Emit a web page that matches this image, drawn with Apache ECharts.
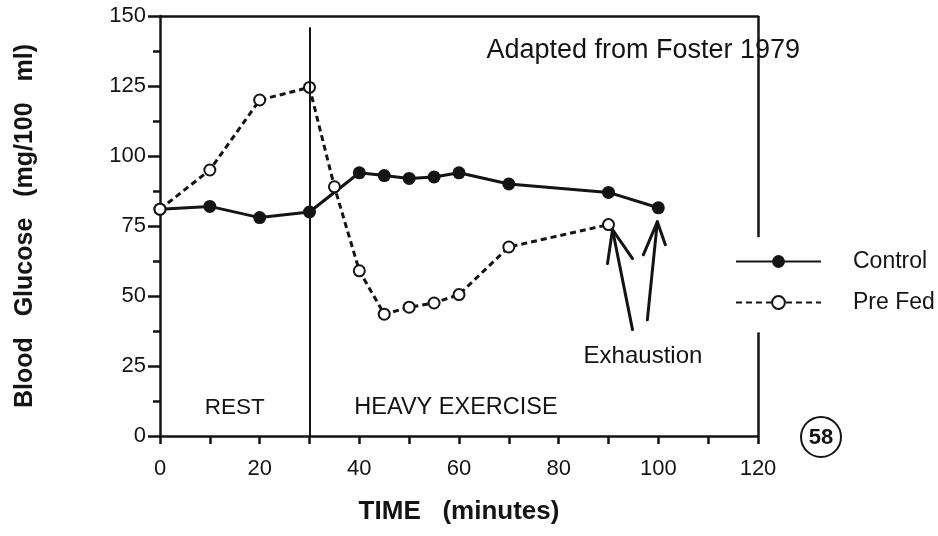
<!DOCTYPE html>
<html>
<head>
<meta charset="utf-8">
<title>Blood Glucose during heavy exercise</title>
<script src="https://cdn.jsdelivr.net/npm/echarts@6/dist/echarts.min.js"></script>
<style>
  html, body { margin: 0; background: #fff; }
  #chart { width: 938px; height: 536px; }
</style>
</head>
<body>
<div id="chart"></div>
<script>
// values (minutes, mg/100 ml)
const controlTime = [0, 10, 20, 30, 40, 45, 50, 55, 60, 70, 90, 100];
const controlValues = [81, 82, 78, 80, 94, 93, 92, 92.5, 94, 90, 87, 81.5];
const preFedTime = [0, 10, 20, 30, 35, 40, 45, 50, 55, 60, 70, 90];
const preFedValues = [81, 95, 120, 124.5, 89, 59, 43.5, 46, 47.5, 50.5, 67.5, 75.5];

const xTicks = { min: 0, max: 120, step: 10 };
const yTicks = { min: 0, max: 150, step: 25 };
const restEnd = 30;

const ink = '#141414';
const font = '"Liberation Sans", Arial, sans-serif';

const chart = echarts.init(document.getElementById('chart'), null, { renderer: 'canvas' });

const toPairs = (xs, ys) => xs.map((x, i) => [x, ys[i]]);

const option = {
  animation: false,
  backgroundColor: '#fff',
  grid: { left: 160, right: 180, top: 16, bottom: 100 },
  legend: {
    data: ['Control', 'Pre Fed'],
    orient: 'vertical',
    left: 735,
    top: 250,
    itemWidth: 85,
    itemHeight: 16,
    itemGap: 18,
    padding: 0,
    textStyle: { fontFamily: font, fontSize: 23, color: ink, padding: [0, 0, 0, 27] }
  },
  xAxis: [
    {
      type: 'value',
      min: xTicks.min,
      max: xTicks.max,
      interval: xTicks.step,
      name: 'TIME   (minutes)',
      nameLocation: 'middle',
      nameGap: 63,
      nameTextStyle: { fontFamily: font, fontSize: 26, fontWeight: 'bold', color: ink },
      axisLine: { onZero: false, lineStyle: { color: ink, width: 2.5 } },
      axisTick: { length: 8, lineStyle: { color: ink, width: 2.5 } },
      axisLabel: {
        margin: 22,
        fontFamily: font,
        fontSize: 22,
        color: ink,
        formatter: v => (v % 20 === 0 ? String(v) : '')
      },
      splitLine: { show: false }
    },
    {
      // top frame line
      type: 'value',
      position: 'top',
      min: xTicks.min,
      max: xTicks.max,
      axisLine: { show: true, onZero: false, lineStyle: { color: ink, width: 2.5 } },
      axisTick: { show: false },
      axisLabel: { show: false },
      splitLine: { show: false }
    }
  ],
  yAxis: {
    type: 'value',
    min: yTicks.min,
    max: yTicks.max,
    interval: yTicks.step,
    name: 'Blood   Glucose   (mg/100   ml)',
    nameLocation: 'middle',
    nameGap: 122,
    nameTextStyle: { fontFamily: font, fontSize: 25, fontWeight: 'bold', color: ink },
    axisLine: { show: true, lineStyle: { color: ink, width: 2.5 } },
    axisTick: { length: 12, lineStyle: { color: ink, width: 2.5 } },
    minorTick: { show: true, splitNumber: 2, length: 7, lineStyle: { color: ink, width: 2.5 } },
    axisLabel: { margin: 14, fontFamily: font, fontSize: 22, color: ink },
    splitLine: { show: false }
  },
  series: [
    {
      name: 'Control',
      type: 'line',
      data: toPairs(controlTime, controlValues),
      symbol: 'circle',
      symbolSize: 13,
      lineStyle: { color: ink, width: 3 },
      itemStyle: { color: ink },
      z: 3,
      markLine: {
        silent: true,
        symbol: 'none',
        label: { show: false },
        lineStyle: { type: 'solid', color: ink, width: 2 },
        data: [[{ coord: [restEnd, 0] }, { coord: [restEnd, 146] }]]
      }
    },
    {
      name: 'Pre Fed',
      type: 'line',
      data: toPairs(preFedTime, preFedValues),
      symbol: 'emptyCircle',
      symbolSize: 11,
      lineStyle: { color: ink, width: 3, type: [6, 4] },
      itemStyle: { color: ink, borderColor: ink, borderWidth: 2.5 },
      z: 4,
      markLine: {
        silent: true,
        symbol: 'none',
        label: { show: false },
        lineStyle: { type: 'solid', color: ink, width: 2.5 },
        data: [
          [{ coord: [xTicks.max, yTicks.max] }, { coord: [xTicks.max, 71] }],
          [{ coord: [xTicks.max, 37] }, { coord: [xTicks.max, 0] }]
        ]
      }
    }
  ]
};

chart.setOption(option);

// annotations anchored to the data coordinates
const px = p => chart.convertToPixel({ gridIndex: 0 }, p);

function label(text, at, size, align) {
  const [x, y] = px(at);
  return {
    type: 'text',
    style: { text, x, y, font: size + 'px ' + font, fill: ink, textAlign: align, textVerticalAlign: 'middle' }
  };
}

function arrow(target, tipOff, tailOff, arm1, arm2) {
  const [x, y] = px(target);
  const tip = [x + tipOff[0], y + tipOff[1]];
  const tail = [x + tailOff[0], y + tailOff[1]];
  const st = { stroke: ink, lineWidth: 3, fill: null, lineCap: 'round', lineJoin: 'round' };
  return [
    { type: 'polyline', shape: { points: [tail, tip] }, style: st },
    {
      type: 'polyline',
      shape: { points: [[tip[0] + arm1[0], tip[1] + arm1[1]], tip, [tip[0] + arm2[0], tip[1] + arm2[1]]] },
      style: st
    }
  ];
}

const lastPre = preFedTime.length - 1;
const lastCtl = controlTime.length - 1;

chart.setOption({
  graphic: [
    label('Adapted from Foster 1979', [65.5, 137.5], 27, 'left'),
    label('REST', [15, 10], 22.5, 'center'),
    label('HEAVY EXERCISE', [39, 10], 23.5, 'left'),
    label('Exhaustion', [85, 28.5], 24, 'left'),
    ...arrow([preFedTime[lastPre], preFedValues[lastPre]], [4, 5], [24, 105], [-5, 34], [20, 29]),
    ...arrow([controlTime[lastCtl], controlValues[lastCtl]], [-1, 14], [-11, 112], [-14, 33], [8, 23]),
    {
      type: 'circle',
      shape: { cx: 821, cy: 437, r: 20 },
      style: { stroke: ink, lineWidth: 2, fill: null }
    },
    {
      type: 'text',
      style: { text: '58', x: 821, y: 438, font: 'bold 22px ' + font, fill: ink, textAlign: 'center', textVerticalAlign: 'middle' }
    }
  ]
});
</script>
</body>
</html>
